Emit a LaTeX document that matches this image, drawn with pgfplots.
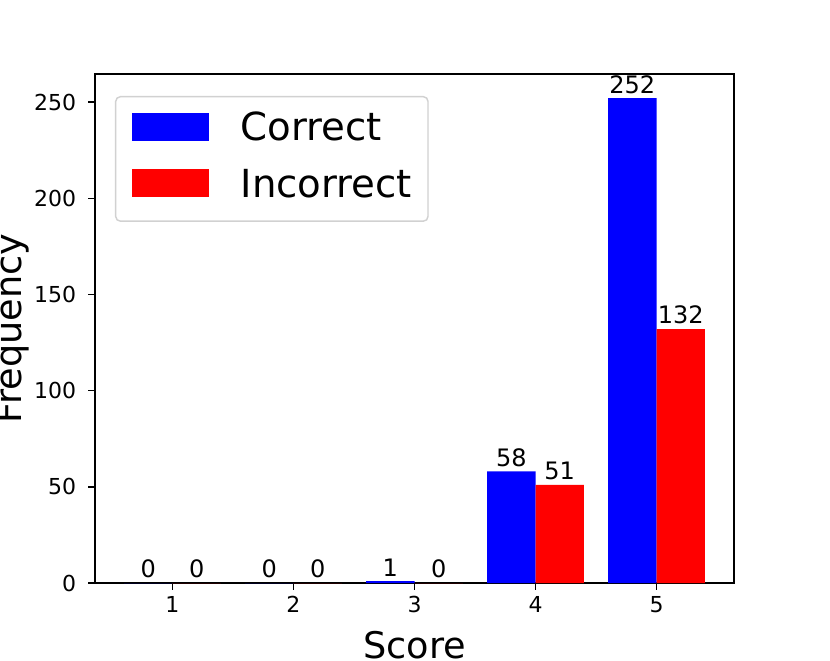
\documentclass[border=0pt]{standalone}
\usepackage{fontspec}
\setmainfont{DejaVu Sans}
\usepackage{pgfplots}
\pgfplotsset{compat=1.18}
\begin{document}
\begin{tikzpicture}
\useasboundingbox (-71.25pt,-57.75pt) rectangle (551.25pt,437.25pt);
\begin{axis}[
  at={(0,0)}, anchor=south west,
  scale only axis, width=479.25pt, height=381.75pt,
  xmin=0.36, xmax=5.64, ymin=0, ymax=264.6,
  xtick={1,2,3,4,5}, ytick={0,50,100,150,200,250},
  tick align=outside, tick pos=left,
  major tick length=5pt,
  axis line style={line width=1.08pt},
  major tick style={line width=1.08pt, black},
  /pgf/number format/assume math mode=true,
  tick label style={font=\fontsize{16.5}{16.5}\selectfont, inner sep=0pt},
  xticklabel style={yshift=-5pt},
  yticklabel style={xshift=-9pt},
  clip=false,
  xlabel={Score}, ylabel={Frequency},
  every axis x label/.style={at={(axis description cs:0.5,-0.1485)}, anchor=base, font=\fontsize{27.5}{27.5}\selectfont},
  every axis y label/.style={at={(axis description cs:-0.1143,0.5)}, anchor=base, rotate=90, font=\fontsize{27.5}{27.5}\selectfont},
  legend style={at={(axis description cs:0.0313,0.9568)}, anchor=north west,
    draw=black!18, line width=1.08pt, rounded corners=3.5pt, fill=white,
    inner xsep=12pt, inner ysep=10.9pt, row sep=13.55pt, column sep=24pt,
    font=\fontsize{29}{29}\selectfont,
    nodes={inner sep=0pt, text height=22.04pt, text depth=6.96pt},
    cells={anchor=west}},
  every node near coord/.append style={font=\fontsize{18}{18}\selectfont, anchor=south, inner sep=0pt, yshift=3.4pt, text=black},
]
\addplot[ybar, fill=blue, draw=none, bar width=0.4, bar shift=-0.2, nodes near coords,
  every node near coord/.append style={xshift=-18.15pt},
  legend image code/.code={\fill[blue, sharp corners] (0pt,-7.47pt) rectangle (57.75pt,13.53pt);}]
  coordinates {(1,0) (2,0) (3,1) (4,58) (5,252)};
\addlegendentry{Correct}
\addplot[ybar, fill=red, draw=none, bar width=0.4, bar shift=0.2, nodes near coords,
  every node near coord/.append style={xshift=18.15pt},
  legend image code/.code={\fill[red, sharp corners] (0pt,-7.47pt) rectangle (57.75pt,13.53pt);}]
  coordinates {(1,0) (2,0) (3,0) (4,51) (5,132)};
\addlegendentry{Incorrect}
\end{axis}
\end{tikzpicture}
\end{document}
